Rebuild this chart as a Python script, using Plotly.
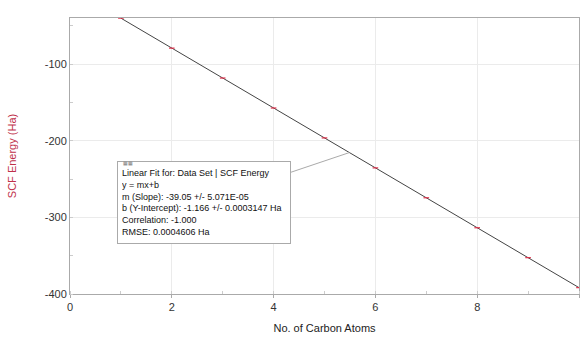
import plotly.graph_objects as go

carbon_atoms = [1, 2, 3, 4, 5, 6, 7, 8, 9, 10]
scf_energy = [-40.2, -79.3, -118.3, -157.4, -196.4, -235.5, -274.5, -313.6, -352.6, -391.7]
fit_x = [1, 10]
fit_y = [-40.2, -391.7]

x_ticks = [0, 2, 4, 6, 8, 10]
y_ticks = [-400, -300, -200, -100]
y_tick_labels = ["-400", "-300", "-200", "-100"]

fit_text = ("Linear Fit for: Data Set | SCF Energy<br>"
            "y = mx+b<br>"
            "m (Slope): -39.05 +/- 5.071E-05<br>"
            "b (Y-Intercept): -1.166 +/- 0.0003147 Ha<br>"
            "Correlation: -1.000<br>"
            "RMSE: 0.0004606 Ha")

font_family = "Liberation Sans, Arial, sans-serif"

fig = go.Figure()
fig.add_trace(go.Scatter(x=fit_x, y=fit_y, mode="lines",
                         line=dict(color="#444444", width=1), showlegend=False))
fig.add_trace(go.Scatter(x=carbon_atoms, y=scf_energy, mode="markers",
                         marker=dict(symbol="line-ew", size=4, line=dict(color="#e0304a", width=1.2)),
                         showlegend=False))

# leader line from the fit box to the fit line
fig.add_shape(type="line", x0=4.25, y0=-243.2, x1=5.49, y1=-215.5,
              line=dict(color="#aaaaaa", width=1), layer="above")

fig.add_annotation(x=2.64, y=-280, xref="x", yref="y", text=fit_text, showarrow=False,
                   align="left", font=dict(family=font_family, size=9, color="#111111"),
                   bgcolor="white", bordercolor="#aaaaaa", borderwidth=1, borderpad=4,
                   width=164, height=73)
fig.add_annotation(x=1.0, y=-229, xref="x", yref="y", text="▦▦", showarrow=False,
                   xanchor="left", font=dict(size=5, color="#777777"))

fig.update_layout(
    width=584, height=337,
    margin=dict(l=70, r=4, t=18, b=41),
    paper_bgcolor="white", plot_bgcolor="white",
    font=dict(family=font_family, size=11, color="#333333"),
    xaxis=dict(range=[0, 10], tickvals=x_ticks, showgrid=True, gridcolor="#ebebeb",
               showline=True, linecolor="#aaaaaa", mirror=True, zeroline=False,
               ticks="outside", ticklen=3, tickcolor="#aaaaaa",
               minor=dict(dtick=1, ticks="inside", ticklen=3, tickcolor="#cccccc"),
               title=dict(text="No. of Carbon Atoms", font=dict(size=11, color="#222222"), standoff=12)),
    yaxis=dict(range=[-400, -40], tickvals=y_ticks, ticktext=y_tick_labels,
               showgrid=True, gridcolor="#ebebeb",
               showline=True, linecolor="#aaaaaa", mirror=True, zeroline=False,
               ticks="", minor=dict(dtick=50, tick0=0, ticks="inside", ticklen=3, tickcolor="#cccccc"),
               title=dict(text="SCF Energy (Ha)", font=dict(size=11, color="#c0304a"), standoff=25)),
)

fig.write_html("out.html", config={"displayModeBar": False},
               post_script="document.body.style.margin='0';document.body.style.overflow='hidden';")
